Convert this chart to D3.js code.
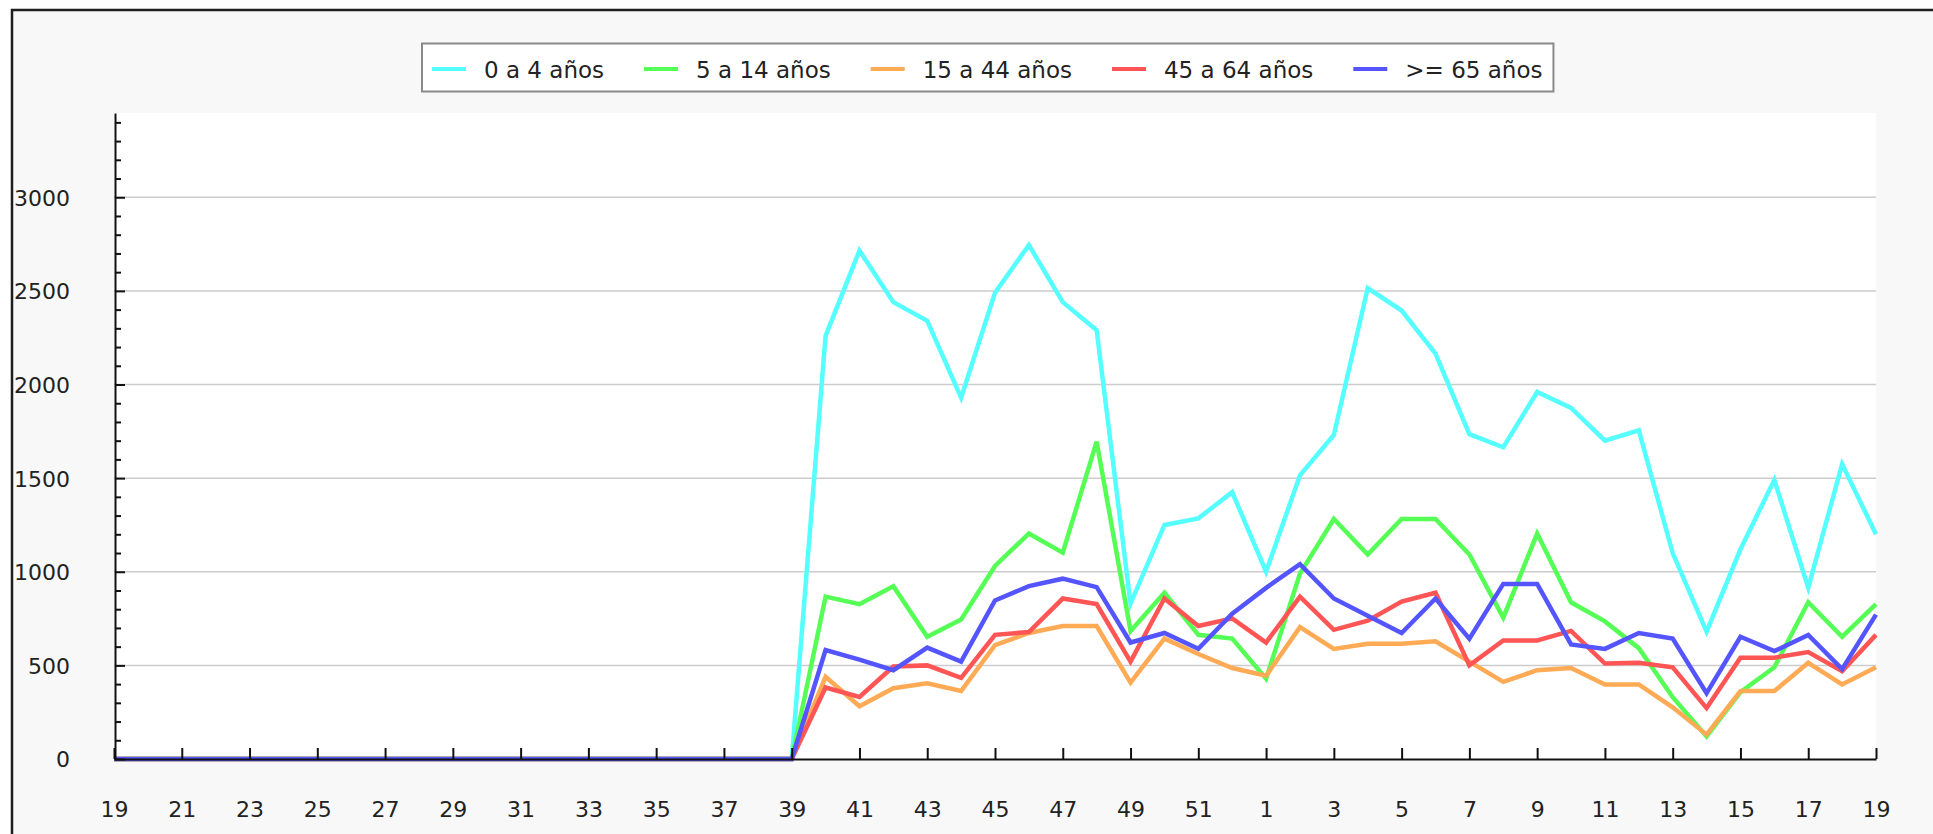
<!DOCTYPE html>
<html>
<head>
<meta charset="utf-8">
<script src="https://cdn.jsdelivr.net/npm/d3@7/dist/d3.min.js"></script>
<style>
  body { margin: 0; background: #ffffff; }
  svg { display: block; font-family: 'DejaVu Sans', sans-serif; }
</style>
</head>
<body>
<div id="chart"></div>
<script>
// semanas epidemiologicas (eje x)
var weeks = [19, 20, 21, 22, 23, 24, 25, 26, 27, 28, 29, 30, 31, 32, 33, 34, 35, 36, 37, 38,
  39, 40, 41, 42, 43, 44, 45, 46, 47, 48, 49, 50, 51, 52,
  1, 2, 3, 4, 5, 6, 7, 8, 9, 10, 11, 12, 13, 14, 15, 16, 17, 18, 19];

// etiquetas del eje y
var yTicks = [0, 500, 1000, 1500, 2000, 2500, 3000];
var yMax = 3450;

// grupos de edad
var names = ['0 a 4 años', '5 a 14 años', '15 a 44 años', '45 a 64 años', '>= 65 años'];
var colors = ['#55ffff', '#55ff55', '#ffaa55', '#ff5555', '#5555ff'];

// valores por semana
var age0to4 = [0, 0, 0, 0, 0, 0, 0, 0, 0, 0, 0, 0, 0, 0, 0, 0, 0, 0, 0, 0, 0,
  2260, 2715, 2440, 2340, 1930, 2490, 2745, 2440, 2290, 830, 1250, 1285, 1425,
  1000, 1515, 1730, 2515, 2395, 2165, 1735, 1665, 1960, 1875, 1700, 1755, 1100,
  680, 1120, 1490, 915, 1575, 1200];
var age5to14 = [0, 0, 0, 0, 0, 0, 0, 0, 0, 0, 0, 0, 0, 0, 0, 0, 0, 0, 0, 0, 0,
  867, 827, 923, 653, 745, 1031, 1204, 1102, 1695, 684, 888, 663, 643,
  429, 990, 1282, 1092, 1282, 1282, 1092, 755, 1204, 837, 735, 592, 330,
  120, 357, 490, 837, 653, 827];
var age15to44 = [0, 0, 0, 0, 0, 0, 0, 0, 0, 0, 0, 0, 0, 0, 0, 0, 0, 0, 0, 0, 0,
  439, 282, 378, 404, 363, 608, 673, 710, 710, 408, 643, 561, 486,
  445, 704, 588, 616, 616, 629, 520, 412, 474, 486, 398, 398, 276,
  130, 363, 363, 514, 398, 490];
var age45to64 = [0, 0, 0, 0, 0, 0, 0, 0, 0, 0, 0, 0, 0, 0, 0, 0, 0, 0, 0, 0, 0,
  382, 331, 494, 500, 433, 663, 678, 857, 827, 520, 857, 710, 751,
  622, 867, 690, 739, 841, 888, 500, 633, 633, 684, 510, 514, 490,
  272, 541, 541, 571, 469, 663];
var age65plus = [0, 0, 0, 0, 0, 0, 0, 0, 0, 0, 0, 0, 0, 0, 0, 0, 0, 0, 0, 0, 0,
  582, 531, 474, 595, 520, 847, 923, 963, 918, 622, 673, 588, 776,
  914, 1041, 857, 765, 673, 857, 643, 935, 935, 612, 588, 673, 643,
  352, 653, 576, 663, 480, 771];

var series = [age0to4, age5to14, age15to44, age45to64, age65plus];

// tamano del lienzo y del area de trazado
var width = 1933;
var height = 834;
var plot = { left: 114, right: 1876, top: 113, bottom: 759 };

var svg = d3.select('#chart').append('svg')
  .attr('width', width)
  .attr('height', height);

// marco exterior con fondo gris claro
svg.append('rect')
  .attr('x', 12).attr('y', 10)
  .attr('width', width + 20).attr('height', height + 20)
  .attr('fill', '#f8f8f8')
  .attr('stroke', '#1e1e1e')
  .attr('stroke-width', 2.5);

// area de trazado blanca
svg.append('rect')
  .attr('x', plot.left).attr('y', plot.top)
  .attr('width', plot.right - plot.left)
  .attr('height', plot.bottom - plot.top)
  .attr('fill', '#ffffff');

var x = d3.scaleLinear().domain([0, weeks.length - 1]).range([plot.left, plot.right]);
var y = d3.scaleLinear().domain([0, yMax]).range([plot.bottom, plot.top]);

// lineas de la cuadricula
svg.append('g').selectAll('line')
  .data(yTicks.filter(function(d) { return d > 0; }))
  .enter().append('line')
  .attr('x1', plot.left).attr('x2', plot.right)
  .attr('y1', function(d) { return y(d); })
  .attr('y2', function(d) { return y(d); })
  .attr('stroke', '#cccccc')
  .attr('stroke-width', 1.5);

// series
var line = d3.line()
  .x(function(d, i) { return x(i); })
  .y(function(d) { return y(d); });

svg.append('g').selectAll('path')
  .data(series)
  .enter().append('path')
  .attr('d', line)
  .attr('fill', 'none')
  .attr('stroke', function(d, i) { return colors[i]; })
  .attr('stroke-width', 4.5);

// eje y: marcas menores cada 100
var minorTicks = d3.range(100, yMax, 100).filter(function(d) { return d % 500 !== 0; });
var yMinor = svg.append('g')
  .attr('transform', 'translate(' + (plot.left + 1) + ',0)')
  .call(d3.axisLeft(y).tickValues(minorTicks).tickSizeInner(-6).tickSizeOuter(0).tickFormat(''));
yMinor.select('.domain').remove();

// eje y: marcas principales y etiquetas
var yAxis = svg.append('g')
  .attr('transform', 'translate(' + (plot.left + 1) + ',0)')
  .call(d3.axisLeft(y).tickValues(yTicks).tickSizeInner(-10).tickSizeOuter(0).tickPadding(45)
    .tickFormat(d3.format('d')));

yAxis.selectAll('line, path').attr('stroke', '#111').attr('stroke-width', 2);
yMinor.selectAll('line').attr('stroke', '#111').attr('stroke-width', 2);
yAxis.selectAll('text')
  .attr('font-family', 'DejaVu Sans, sans-serif')
  .attr('font-size', 22)
  .attr('fill', '#222')
  .attr('dy', '0.36em');

// eje x
var xTicks = d3.range(0, weeks.length, 2);
var xAxis = svg.append('g')
  .attr('transform', 'translate(0,' + plot.bottom + ')')
  .call(d3.axisBottom(x).tickValues(xTicks).tickSizeInner(-11).tickSizeOuter(0)
    .tickFormat(function(i) { return weeks[i]; }));

xAxis.selectAll('line, path').attr('stroke', '#111').attr('stroke-width', 2);
xAxis.selectAll('text')
  .attr('font-family', 'DejaVu Sans, sans-serif')
  .attr('font-size', 22)
  .attr('fill', '#222')
  .attr('y', 58)
  .attr('dy', null);

// leyenda
var legend = svg.append('g');
var legendBox = legend.append('rect')
  .attr('x', 422).attr('y', 43.5)
  .attr('height', 48)
  .attr('fill', '#ffffff')
  .attr('stroke', '#8a8a8a')
  .attr('stroke-width', 2);

var lx = 432;
names.forEach(function(name, i) {
  legend.append('line')
    .attr('x1', lx).attr('x2', lx + 34)
    .attr('y1', 69).attr('y2', 69)
    .attr('stroke', colors[i])
    .attr('stroke-width', 4);
  var t = legend.append('text')
    .attr('x', lx + 52)
    .attr('y', 78)
    .attr('font-size', 23)
    .attr('fill', '#222')
    .text(name);
  lx = lx + 52 + t.node().getComputedTextLength() + 40;
});
legendBox.attr('width', lx - 40 + 11 - 422);
</script>
</body>
</html>
